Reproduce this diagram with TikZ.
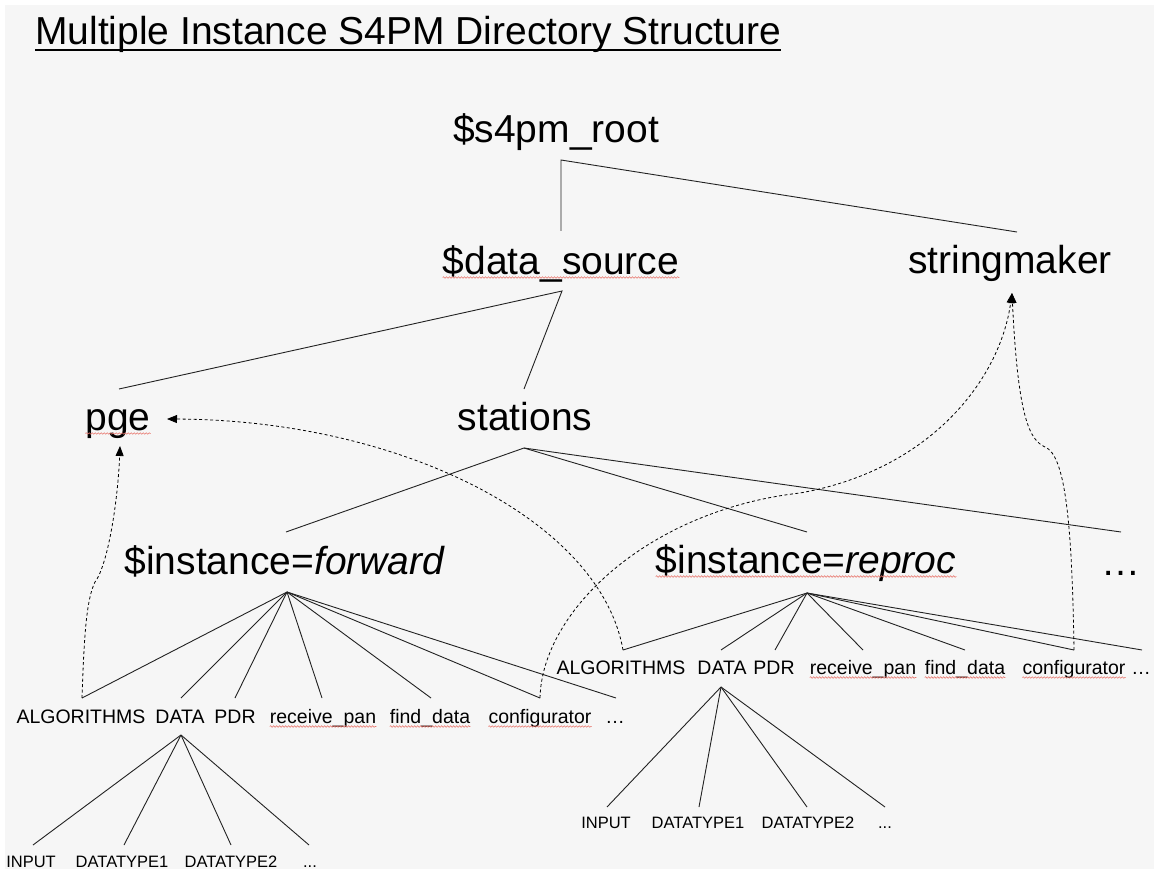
\documentclass[tikz,border=0pt]{standalone}
\usepackage{fontspec}
\setmainfont{Liberation Sans}
\usetikzlibrary{arrows.meta,decorations.pathmorphing}
\definecolor{bgc}{HTML}{F6F6F6}
\definecolor{lnc}{HTML}{222222}
\definecolor{squig}{HTML}{E8776E}
\tikzset{
  big/.style={font=\fontsize{39}{44}\selectfont, inner sep=0pt, anchor=base},
  mid/.style={font=\fontsize{19.5}{23}\selectfont, inner sep=0pt, anchor=base},
  small/.style={font=\fontsize{16.5}{20}\selectfont, inner sep=0pt, anchor=base},
  edge/.style={draw=lnc, line width=0.9pt},
  link/.style={draw=black, line width=0.8pt, dash pattern=on 3pt off 2.5pt, -{Triangle[length=10pt,width=8pt]}},
  spell/.style={draw=squig, line width=0.55pt, decorate, decoration={snake, segment length=3pt, amplitude=0.8pt}}
}
\begin{document}
\begin{tikzpicture}[x=1pt,y=-1pt]
\useasboundingbox (0,0) rectangle (1154,869);
\fill[white] (0,0) rectangle (1154,869);
\fill[bgc] (5,5) rectangle (1154,869);

% title
\node[big, anchor=base west] (title) at (35,45) {Multiple Instance S4PM Directory Structure};
\draw[line width=1.6pt] ([yshift=-5pt]title.base west) -- ([yshift=-5pt]title.base east);

% main nodes
\node[big] (root) at (556,143) {\$s4pm\_root};
\node[big] (ds) at (561,274) {\$data\_source};
\node[big] (sm) at (1010,273) {stringmaker};
\node[big] (pge) at (118,430) {pge};
\node[big] (st) at (525,430) {stations};
\node[big] (fw) at (285,574) {\$instance=\textit{forward}};
\node[big] (rp) at (806,573) {\$instance=\textit{reproc}};
\node[big] (dots) at (1121,575) {…};

% left children
\node[mid] (a1) at (81,723) {ALGORITHMS};
\node[mid] (d1) at (180,723) {DATA};
\node[mid] (p1) at (235,723) {PDR};
\node[mid] (r1) at (323,723) {receive\_pan};
\node[mid] (f1) at (430,723) {find\_data};
\node[mid] (c1) at (540,723) {configurator};
\node[mid] (e1) at (615,723) {…};

% right children
\node[mid] (a2) at (621,674) {ALGORITHMS};
\node[mid] (d2) at (722,674) {DATA};
\node[mid] (p2) at (774,674) {PDR};
\node[mid] (r2) at (863,674) {receive\_pan};
\node[mid] (f2) at (965,674) {find\_data};
\node[mid] (c2) at (1074,674) {configurator};
\node[mid] (e2) at (1141,674) {…};

% left grandchildren
\node[small] (i1) at (31,867) {INPUT};
\node[small] (t11) at (122,867) {DATATYPE1};
\node[small] (t12) at (231,867) {DATATYPE2};
\node[small] (g1) at (310,867) {...};

% right grandchildren
\node[small] (i2) at (606,828) {INPUT};
\node[small] (t21) at (698,828) {DATATYPE1};
\node[small] (t22) at (808,828) {DATATYPE2};
\node[small] (g2) at (885,828) {...};

% connection points
\coordinate (rootB) at (561,160);
\coordinate (dsT) at (561,231);
\coordinate (smT) at (1017,232);
\coordinate (dsB) at (562,291);
\coordinate (pgeT) at (119,389);
\coordinate (stT) at (524,389);
\coordinate (stB) at (524,448);
\coordinate (fwT) at (286,532);
\coordinate (rpT) at (807,532);
\coordinate (dotsT) at (1121,532);
\coordinate (fwB) at (287,592);
\coordinate (rpB) at (807,593);
\coordinate (a1T) at (82,698);
\coordinate (d1T) at (181,698);
\coordinate (p1T) at (235,698);
\coordinate (r1T) at (322,698);
\coordinate (f1T) at (431,698);
\coordinate (c1T) at (540,698);
\coordinate (e1T) at (616,698);
\coordinate (a2T) at (623,650);
\coordinate (d2T) at (721,650);
\coordinate (p2T) at (775,650);
\coordinate (r2T) at (863,650);
\coordinate (f2T) at (965,650);
\coordinate (c2T) at (1074,650);
\coordinate (e2T) at (1142,650);
\coordinate (d1B) at (181,735);
\coordinate (i1T) at (33,845);
\coordinate (t11T) at (124,845);
\coordinate (t12T) at (231,845);
\coordinate (g1T) at (309,845);
\coordinate (d2B) at (721,687);
\coordinate (i2T) at (607,807);
\coordinate (t21T) at (699,807);
\coordinate (t22T) at (807,807);
\coordinate (g2T) at (885,807);
\coordinate (pgeIn) at (120,446);
\coordinate (pgeInR) at (167,419);
\coordinate (smIn) at (1012,293);

% tree edges
\draw[edge] (dsT) -- (rootB) -- (smT);
\draw[edge] (pgeT) -- (dsB) -- (stT);
\draw[edge] (fwT) -- (stB) -- (rpT);
\draw[edge] (stB) -- (dotsT);
\foreach \c in {a1T,d1T,p1T,r1T,f1T,c1T,e1T} \draw[edge] (fwB) -- (\c);
\foreach \c in {a2T,d2T,p2T,r2T,f2T,c2T,e2T} \draw[edge] (rpB) -- (\c);
\foreach \c in {i1T,t11T,t12T,g1T} \draw[edge] (d1B) -- (\c);
\foreach \c in {i2T,t21T,t22T,g2T} \draw[edge] (d2B) -- (\c);

% dashed links
\draw[link] (a1T) .. controls (84,640) and (86,600) .. (95,582) .. controls (108,565) and (118,500) .. (pgeIn);
\draw[link] (a2T) .. controls (600,520) and (400,420) .. (pgeInR);
\draw[link] (c1T) .. controls (542,610) and (650,510) .. (800,493) .. controls (930,470) and (1000,380) .. (smIn);
\draw[link] (c2T) .. controls (1072,520) and (1065,455) .. (1045,447) .. controls (1030,440) and (1018,420) .. (smIn);

% spell-check underlines
\foreach \n in {ds,pge,rp,r1,f1,c1,r2,f2,c2}
  \draw[spell] ([yshift=-3.5pt]\n.base west) -- ([yshift=-3.5pt]\n.base east);
\end{tikzpicture}
\end{document}
